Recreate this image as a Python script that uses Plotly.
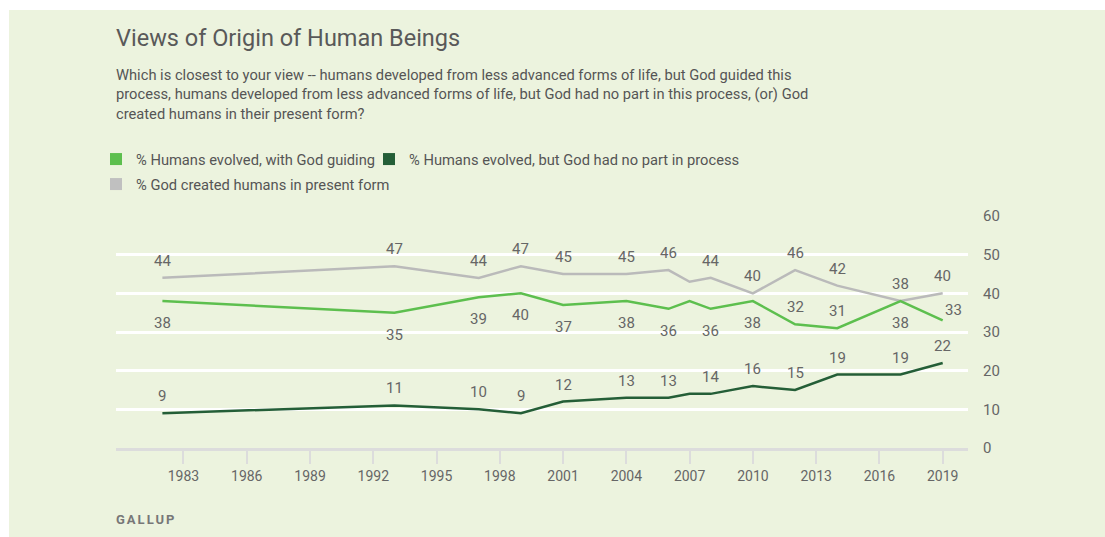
import plotly.graph_objects as go

# ---- data ----
years = [1982, 1993, 1997, 1999, 2001, 2004, 2006, 2007, 2008, 2010, 2012, 2014, 2017, 2019]
god_guiding = [38, 35, 39, 40, 37, 38, 36, 38, 36, 38, 32, 31, 38, 33]
no_part = [9, 11, 10, 9, 12, 13, 13, 14, 14, 16, 15, 19, 19, 22]
god_created = [44, 47, 44, 47, 45, 45, 46, 43, 44, 40, 46, 42, 38, 40]

# label placement per point: a=above, b=below, r=above-right, ''=none
pos_guiding = ['b', 'b', 'b', 'b', 'b', 'b', 'b', '', 'b', 'b', 'a', 'a', 'b', 'r']
pos_no_part = ['a', 'a', 'a', 'a', 'a', 'a', 'a', '', 'a', 'a', 'a', 'a', 'a', 'a']
pos_created = ['a', 'a', 'a', 'a', 'a', 'a', 'a', '', 'a', 'a', 'a', 'a', 'a', 'a']

x_ticks = [1983, 1986, 1989, 1992, 1995, 1998, 2001, 2004, 2007, 2010, 2013, 2016, 2019]
y_ticks = [0, 10, 20, 30, 40, 50, 60]

names = ["% Humans evolved, with God guiding",
         "% Humans evolved, but God had no part in process",
         "% God created humans in present form"]
C_LIGHT = "#5dbf4e"
C_DARK = "#245e37"
C_GRAY = "#bababa"
BG = "#ecf3de"
TXT = "#666666"
FONT = "Roboto"

W, H = 1105, 537
L, R, T, B = 116, 968, 216, 448


def px(xp):
    return (xp - L) / (R - L)


def py(yp):
    return (B - yp) / (B - T)


fig = go.Figure()
series = [(god_created, C_GRAY, pos_created, names[2]),
          (god_guiding, C_LIGHT, pos_guiding, names[0]),
          (no_part, C_DARK, pos_no_part, names[1])]
for vals, col, poss, nm in series:
    fig.add_trace(go.Scatter(x=years, y=vals, mode="lines", line=dict(color=col, width=2.5),
                             showlegend=False, hoverinfo="skip", cliponaxis=False))

# legend-only traces
fig.add_trace(go.Scatter(x=[None], y=[None], mode="markers", name=names[0], legendwidth=228,
                         marker=dict(symbol="square", size=12, color=C_LIGHT), legend="legend"))
fig.add_trace(go.Scatter(x=[None], y=[None], mode="markers", name=names[1],
                         marker=dict(symbol="square", size=12, color=C_DARK), legend="legend"))
fig.add_trace(go.Scatter(x=[None], y=[None], mode="markers", name=names[2],
                         marker=dict(symbol="square", size=12, color="#c0c0c0"), legend="legend2"))

annotations = []
for vals, col, poss, nm in series:
    for x, v, p in zip(years, vals, poss):
        if not p:
            continue
        xs, ys = 0, 0
        if p == 'a':
            ys = 17
        elif p == 'b':
            ys = -22
        elif p == 'r':
            xs, ys = 11, 10
        annotations.append(dict(x=x, y=v, xref="x", yref="y", text=str(v), showarrow=False,
                                xshift=xs, yshift=ys, xanchor="center", yanchor="middle",
                                font=dict(family=FONT, size=15, color=TXT)))

# title, subtitle, source
annotations.append(dict(x=px(114), y=py(38), xref="paper", yref="paper", xanchor="left",
                        yanchor="middle", showarrow=False, text="Views of Origin of Human Beings",
                        font=dict(family=FONT, size=23.5, color="#595959")))
sub = ["Which is closest to your view -- humans developed from less advanced forms of life, but God guided this",
       "process, humans developed from less advanced forms of life, but God had no part in this process, (or) God",
       "created humans in their present form?"]
for i, line in enumerate(sub):
    annotations.append(dict(x=px(114), y=py(75 + 19.5 * i), xref="paper", yref="paper", xanchor="left",
                            yanchor="middle", showarrow=False, text=line,
                            font=dict(family=FONT, size=14.7, color="#555555")))
annotations.append(dict(x=px(114), y=py(519), xref="paper", yref="paper", xanchor="left",
                        yanchor="middle", showarrow=False,
                        text='<b><span style="letter-spacing:2px">GALLUP</span></b>',
                        font=dict(family=FONT, size=13, color="#777777")))

shapes = [
    # white margins at top and left
    dict(type="rect", xref="paper", yref="paper", x0=px(-5), x1=px(W + 5), y0=py(10), y1=py(-5),
         fillcolor="white", line=dict(width=0), layer="below"),
    dict(type="rect", xref="paper", yref="paper", x0=px(-5), x1=px(9), y0=py(H + 5), y1=py(-5),
         fillcolor="white", line=dict(width=0), layer="below"),
]

fig.update_layout(
    width=W, height=H,
    margin=dict(l=L, r=W - R, t=T, b=H - B, pad=0),
    paper_bgcolor=BG, plot_bgcolor=BG,
    font=dict(family=FONT, color=TXT),
    annotations=annotations, shapes=shapes,
    legend=dict(orientation="h", x=px(96), y=py(143), xanchor="left", yanchor="top",
                font=dict(family=FONT, size=14.7, color="#555555"), bgcolor="rgba(0,0,0,0)",
                itemclick=False, itemdoubleclick=False, tracegroupgap=0),
    legend2=dict(orientation="h", x=px(96), y=py(168), xanchor="left", yanchor="top",
                 font=dict(family=FONT, size=14.7, color="#555555"), bgcolor="rgba(0,0,0,0)",
                 itemclick=False, itemdoubleclick=False),
    xaxis=dict(range=[1979.8, 2020.2], tickmode="array", tickvals=x_ticks,
               ticktext=[str(t) for t in x_ticks], showgrid=False, zeroline=False,
               showline=True, linecolor="#dcdcdc", linewidth=3,
               ticks="outside", ticklen=13, tickwidth=2, tickcolor="#dcdcdc",
               tickfont=dict(family=FONT, size=14, color=TXT), fixedrange=True),
    yaxis=dict(range=[0, 60], side="right", tickmode="array", tickvals=y_ticks,
               ticktext=[str(t) for t in y_ticks], showgrid=True, gridcolor="white", gridwidth=2.5,
               zeroline=False, showline=False, ticks="", ticklabelstandoff=14,
               tickfont=dict(family=FONT, size=15, color=TXT), fixedrange=True),
    showlegend=True,
)

fig.write_html("out.html", config={"displayModeBar": False})
